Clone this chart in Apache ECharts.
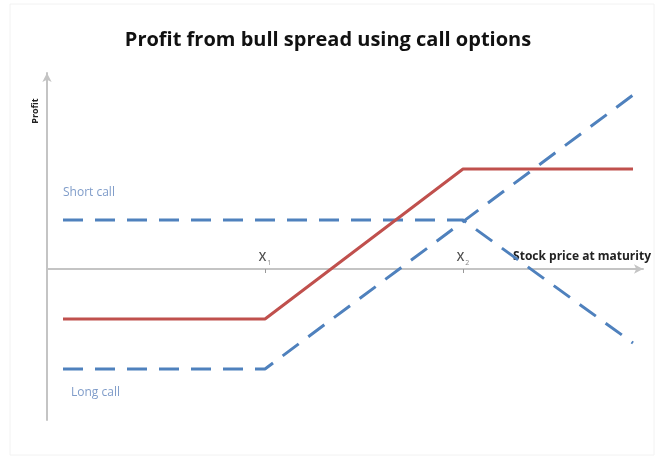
<!DOCTYPE html>
<html lang="en">
<head>
    <meta charset="UTF-8">
    <title>Bull spread</title>
    <script type="text/javascript" src="https://cdn.jsdelivr.net/npm/echarts@6/dist/echarts.min.js"></script>
    <style>
        html, body {margin: 0; padding: 0; background: #fff;}
    </style>
</head>
<body>
<div id="main" style="width: 656px;height: 457px"></div>
</body>
<script>
    // stock price (x) and profit (y)
    var strikes = [218, 416]
    var strikeLabels = ["1", "2"]
    var bullSpread = [[16, -50], [218, -50], [416, 100], [586, 100]]
    var shortCall = [[16, 49], [416, 49], [586, -74]]
    var longCall = [[16, -100], [218, -100], [586, 174]]

    var strikePoints = []
    for (var i = 0; i < strikes.length; i++) {
        strikePoints.push({value: [strikes[i], 0], sub: strikeLabels[i]})
    }

    var myChart = echarts.init(document.getElementById("main"))
    myChart.setOption({
        animation: false,
        title: {
            text: "Profit from bull spread using call options",
            left: "center",
            top: 25,
            textStyle: {fontFamily: "Open Sans", fontSize: 20, fontWeight: "bold", color: "#111"}
        },
        grid: {left: 47, top: 73, width: 596, height: 347},
        xAxis: {
            type: "value",
            min: 0,
            max: 596,
            splitLine: {show: false},
            axisLine: {
                onZero: true,
                symbol: ["none", "arrow"],
                symbolSize: [7, 9],
                lineStyle: {color: "#c4c4c4", width: 2}
            },
            axisTick: {show: true, customValues: strikes, length: 4, lineStyle: {color: "#999", width: 1}},
            axisLabel: {show: false}
        },
        yAxis: {
            type: "value",
            min: -151,
            max: 196,
            splitLine: {show: false},
            axisLabel: {show: false},
            axisTick: {show: false},
            axisLine: {
                show: true,
                onZero: false,
                symbol: ["none", "arrow"],
                symbolSize: [7, 9],
                lineStyle: {color: "#c4c4c4", width: 2}
            }
        },
        graphic: [
            {type: "rect", shape: {x: 10, y: 4, width: 644, height: 451},
                style: {fill: "none", stroke: "#f2f2f2", lineWidth: 1}, silent: true},
            {type: "text", x: 35, y: 111, rotation: Math.PI / 2,
                style: {text: "Profit", fontFamily: "Open Sans", fontSize: 9, fontWeight: "bold",
                    fill: "#222", align: "center", verticalAlign: "middle"}},
            {type: "text", x: 63, y: 193,
                style: {text: "Short call", fontFamily: "Open Sans", fontSize: 12,
                    fill: "#7f9cc9", verticalAlign: "middle"}},
            {type: "text", x: 71, y: 393,
                style: {text: "Long call", fontFamily: "Open Sans", fontSize: 12,
                    fill: "#7f9cc9", verticalAlign: "middle"}},
            {type: "text", x: 651, y: 257,
                style: {text: "Stock price at maturity", fontFamily: "Open Sans", fontSize: 12,
                    fontWeight: "bold", fill: "#222", align: "right", verticalAlign: "middle"}}
        ],
        series: [
            {
                name: "Short call",
                type: "line",
                data: shortCall,
                symbol: "none",
                lineStyle: {color: "#4f81bd", width: 3, type: [20, 12]},
                z: 2
            },
            {
                name: "Long call",
                type: "line",
                data: longCall,
                symbol: "none",
                lineStyle: {color: "#4f81bd", width: 3, type: [20, 12]},
                z: 2
            },
            {
                name: "Bull spread",
                type: "line",
                data: bullSpread,
                symbol: "none",
                lineStyle: {color: "#c0504d", width: 3},
                z: 3
            },
            {
                name: "Strikes",
                type: "scatter",
                data: strikePoints,
                symbolSize: 0,
                silent: true,
                label: {
                    show: true,
                    position: "top",
                    distance: 3,
                    formatter: function (p) {
                        return "{x|X}{s|" + p.data.sub + "}"
                    },
                    rich: {
                        x: {fontFamily: "Open Sans", fontSize: 12, fontWeight: 600, color: "#222"},
                        s: {fontFamily: "Open Sans", fontSize: 7, color: "#666", padding: [9, 0, 0, 1]}
                    }
                },
                z: 4
            }
        ]
    });
</script>
</html>
